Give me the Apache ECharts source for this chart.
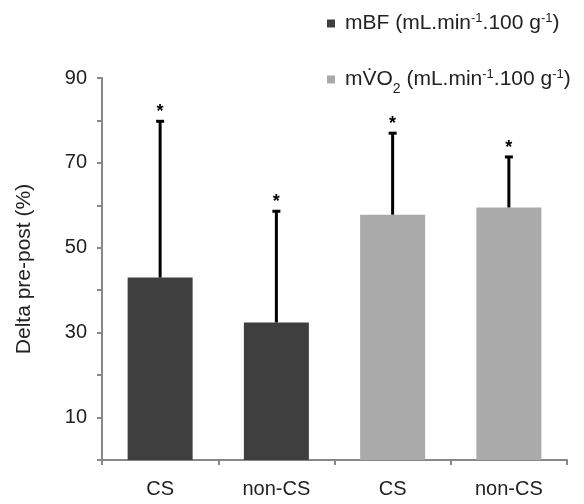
<!DOCTYPE html>
<html><head><meta charset="utf-8">
<script src="https://cdn.jsdelivr.net/npm/echarts@6/dist/echarts.min.js"></script>
<style>html,body{margin:0;padding:0;background:#fff}#c{width:584px;height:504px}</style>
</head><body><div id="c"></div>
<script>
var categories = ['CS', 'non-CS', 'CS', 'non-CS'];
var mbfMean = [43.0, 32.4, '-', '-'];
var mbfSD   = [36.8, 26.2, '-', '-'];
var vo2Mean = ['-', '-', 57.8, 59.5];
var vo2SD   = ['-', '-', 19.2, 11.9];
var yTicks = [10, 30, 50, 70, 90];
var legendNames = ['mBF', 'mVO2'];
var legendRich = {
  'mBF': '{n|mBF (mL.min}{s|-1}{n|.100 g}{s|-1}{n|)}',
  'mVO2': '{n|mV\u0307O}{b|2}{n| (mL.min}{s|-1}{n|.100 g}{s|-1}{n|)}'
};

var errData = [];
for (var i = 0; i < categories.length; i++) {
  var m = mbfMean[i] !== '-' ? mbfMean[i] : vo2Mean[i];
  var s = mbfMean[i] !== '-' ? mbfSD[i] : vo2SD[i];
  errData.push([i, m, m + s]);
}

var FONT = 'Liberation Sans, Arial, sans-serif';
var chart = echarts.init(document.getElementById('c'), null, {renderer: 'canvas'});
chart.setOption({
  animation: false,
  backgroundColor: '#fff',
  textStyle: {fontFamily: FONT},
  legend: {
    orient: 'vertical', left: 322, top: 7, itemGap: 34,
    itemWidth: 8, itemHeight: 8, icon: 'rect',
    data: legendNames,
    formatter: function (name) { return legendRich[name]; },
    textStyle: {
      fontSize: 21, color: '#222', padding: [0, 0, 0, 5],
      rich: {
        n: {fontSize: 21, lineHeight: 23, color: '#222', fontFamily: FONT},
        s: {fontSize: 13, lineHeight: 13, verticalAlign: 'top', color: '#222', fontFamily: FONT},
        b: {fontSize: 14, lineHeight: 14, verticalAlign: 'bottom', color: '#222', fontFamily: FONT, padding: [0, 0, -5, 0]}
      }
    }
  },
  grid: {left: 102, right: 17, top: 78, bottom: 44},
  xAxis: {
    type: 'category', data: categories,
    axisLine: {lineStyle: {color: '#888', width: 2}},
    axisTick: {show: true, length: 5, lineStyle: {color: '#888', width: 2}},
    axisLabel: {fontSize: 20, color: '#222', margin: 19}
  },
  yAxis: {
    type: 'value', min: 0, max: 90, interval: 10,
    name: 'Delta pre-post (%)', nameLocation: 'middle', nameGap: 67, nameRotate: 90,
    nameTextStyle: {fontSize: 21, color: '#222'},
    axisLine: {show: true, lineStyle: {color: '#888', width: 2}},
    axisTick: {show: true, length: 5, lineStyle: {color: '#888', width: 2}},
    axisLabel: {fontSize: 20, color: '#222', margin: 15,
      formatter: function (v) { return yTicks.indexOf(v) >= 0 ? String(v) : ''; }},
    splitLine: {show: false}
  },
  series: [
    {name: legendNames[0], type: 'bar', data: mbfMean, barWidth: 65, barGap: '-100%',
     itemStyle: {color: '#3f3f3f'}},
    {name: legendNames[1], type: 'bar', data: vo2Mean, barWidth: 65, barGap: '-100%',
     itemStyle: {color: '#aaaaaa'}},
    {type: 'custom', data: errData, z: 10,
     renderItem: function (params, api) {
       var x = api.value(0);
       var p0 = api.coord([x, api.value(1)]);
       var p1 = api.coord([x, api.value(2)]);
       var st = {stroke: '#000', lineWidth: 3};
       return {type: 'group', children: [
         {type: 'line', shape: {x1: p0[0], y1: p0[1], x2: p1[0], y2: p1[1]}, style: st},
         {type: 'line', shape: {x1: p1[0] - 4, y1: p1[1], x2: p1[0] + 4, y2: p1[1]}, style: st},
         {type: 'text', style: {x: p1[0], y: p1[1] - 9, text: '*', textAlign: 'center',
           textVerticalAlign: 'middle', fontSize: 18, fontWeight: 'bold', fill: '#000',
           fontFamily: FONT}}
       ]};
     }}
  ]
});
</script></body></html>
